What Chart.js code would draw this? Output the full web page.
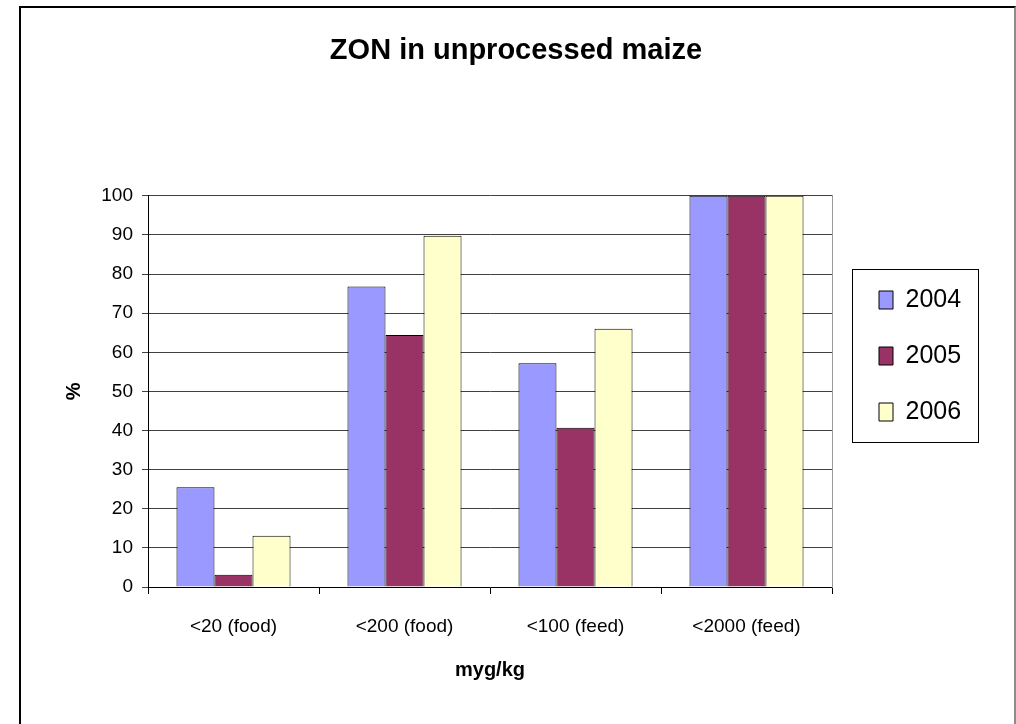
<!DOCTYPE html>
<html>
<head>
<meta charset="utf-8">
<script src="https://cdn.jsdelivr.net/npm/chart.js@4.4.1/dist/chart.umd.min.js"></script>
<style>
  html, body { margin: 0; padding: 0; background: #fff; overflow: hidden; }
  #frame {
    position: absolute; left: 19px; top: 6px; width: 993px; height: 800px;
    border-left: 2px solid #000; border-top: 2px solid #000; border-right: 2px solid #8c8c8c;
  }
  #chart { position: absolute; left: 0; top: 0; }
</style>
</head>
<body>
<div id="frame"></div>
<canvas id="chart" width="1016" height="724"></canvas>
<script>
const categories = ['<20 (food)', '<200 (food)', '<100 (feed)', '<2000 (feed)'];
const years = ['2004', '2005', '2006'];
const values2004 = [25.5, 76.8, 57.2, 100];
const values2005 = [3.1, 64.4, 40.7, 100];
const values2006 = [13.1, 89.8, 66, 100];
const barColors = ['#9999ff', '#993366', '#ffffcc'];

const FONT = "'Liberation Sans', Arial, sans-serif";

// box drawn round the legend, like the excel one
const legendFrame = {
  id: 'legendFrame',
  afterLayout(chart) {
    const lg = chart.legend;
    lg.left = chart.chartArea.right + 16;
    lg.right = lg.left + lg.width;
  },
  afterDraw(chart) {
    const lg = chart.legend;
    const pad = lg.options.labels.padding;
    const colH = lg.columnSizes[0].height;
    const y0 = ((lg.top + pad) + (lg.bottom - colH)) / 2;
    const ctx = chart.ctx;
    ctx.save();
    ctx.strokeStyle = '#000';
    ctx.lineWidth = 1;
    ctx.strokeRect(Math.round(lg.left + 4) + 0.5, Math.round(y0 - 19) + 0.5, 126, 173);
    ctx.restore();
  }
};

new Chart(document.getElementById('chart'), {
  type: 'bar',
  data: {
    labels: categories,
    datasets: [
      { label: years[0], data: values2004, backgroundColor: barColors[0] },
      { label: years[1], data: values2005, backgroundColor: barColors[1] },
      { label: years[2], data: values2006, backgroundColor: barColors[2] },
    ].map(ds => ({ ...ds, borderColor: '#000', borderWidth: 1, categoryPercentage: 0.667, barPercentage: 1 })),
  },
  options: {
    responsive: false,
    animation: false,
    layout: { padding: { left: 20, right: 4, top: 0, bottom: 12 } },
    plugins: {
      tooltip: { enabled: false },
      title: {
        display: true,
        text: 'ZON in unprocessed maize',
        color: '#000',
        font: { family: FONT, size: 29, weight: 'bold' },
        padding: { top: 34, bottom: 127 },
      },
      legend: {
        position: 'right',
        labels: {
          color: '#000',
          font: { family: FONT, size: 25 },
          boxWidth: 14,
          boxHeight: 18,
          padding: 31,
        },
      },
    },
    scales: {
      x: {
        afterFit(scale) { scale.height = 125; },
        grid: { drawOnChartArea: false, drawTicks: true, tickLength: 7, color: '#000' },
        border: { color: '#000', width: 1 },
        ticks: { color: '#000', font: { family: FONT, size: 19 }, padding: 21 },
        title: {
          display: true, text: 'myg/kg', color: '#000',
          font: { family: FONT, size: 20, weight: 'bold' },
          padding: { top: 0, bottom: 30 },
        },
      },
      y: {
        min: 0, max: 100,
        afterFit(scale) { scale.width = 128; },
        grid: { color: '#404040', lineWidth: 1, tickLength: 6 },
        border: { color: '#000', width: 1 },
        ticks: { stepSize: 10, color: '#000', font: { family: FONT, size: 19 }, padding: 9 },
        title: {
          display: true, text: '%', color: '#000',
          font: { family: FONT, size: 20, weight: 'bold' },
          padding: { top: 42, bottom: 0 },
        },
      },
      // only there to give the plot its grey right edge and push it left of the legend
      y2: {
        position: 'right',
        afterFit(scale) {
          const lw = scale.chart.legend ? scale.chart.legend.width : 0;
          scale.width = Math.max(0, 1012 - lw - 832);
        },
        grid: { drawOnChartArea: false, drawTicks: false },
        border: { color: '#999', width: 1 },
        ticks: { display: false },
      },
    },
  },
  plugins: [legendFrame],
});
</script>
</body>
</html>
